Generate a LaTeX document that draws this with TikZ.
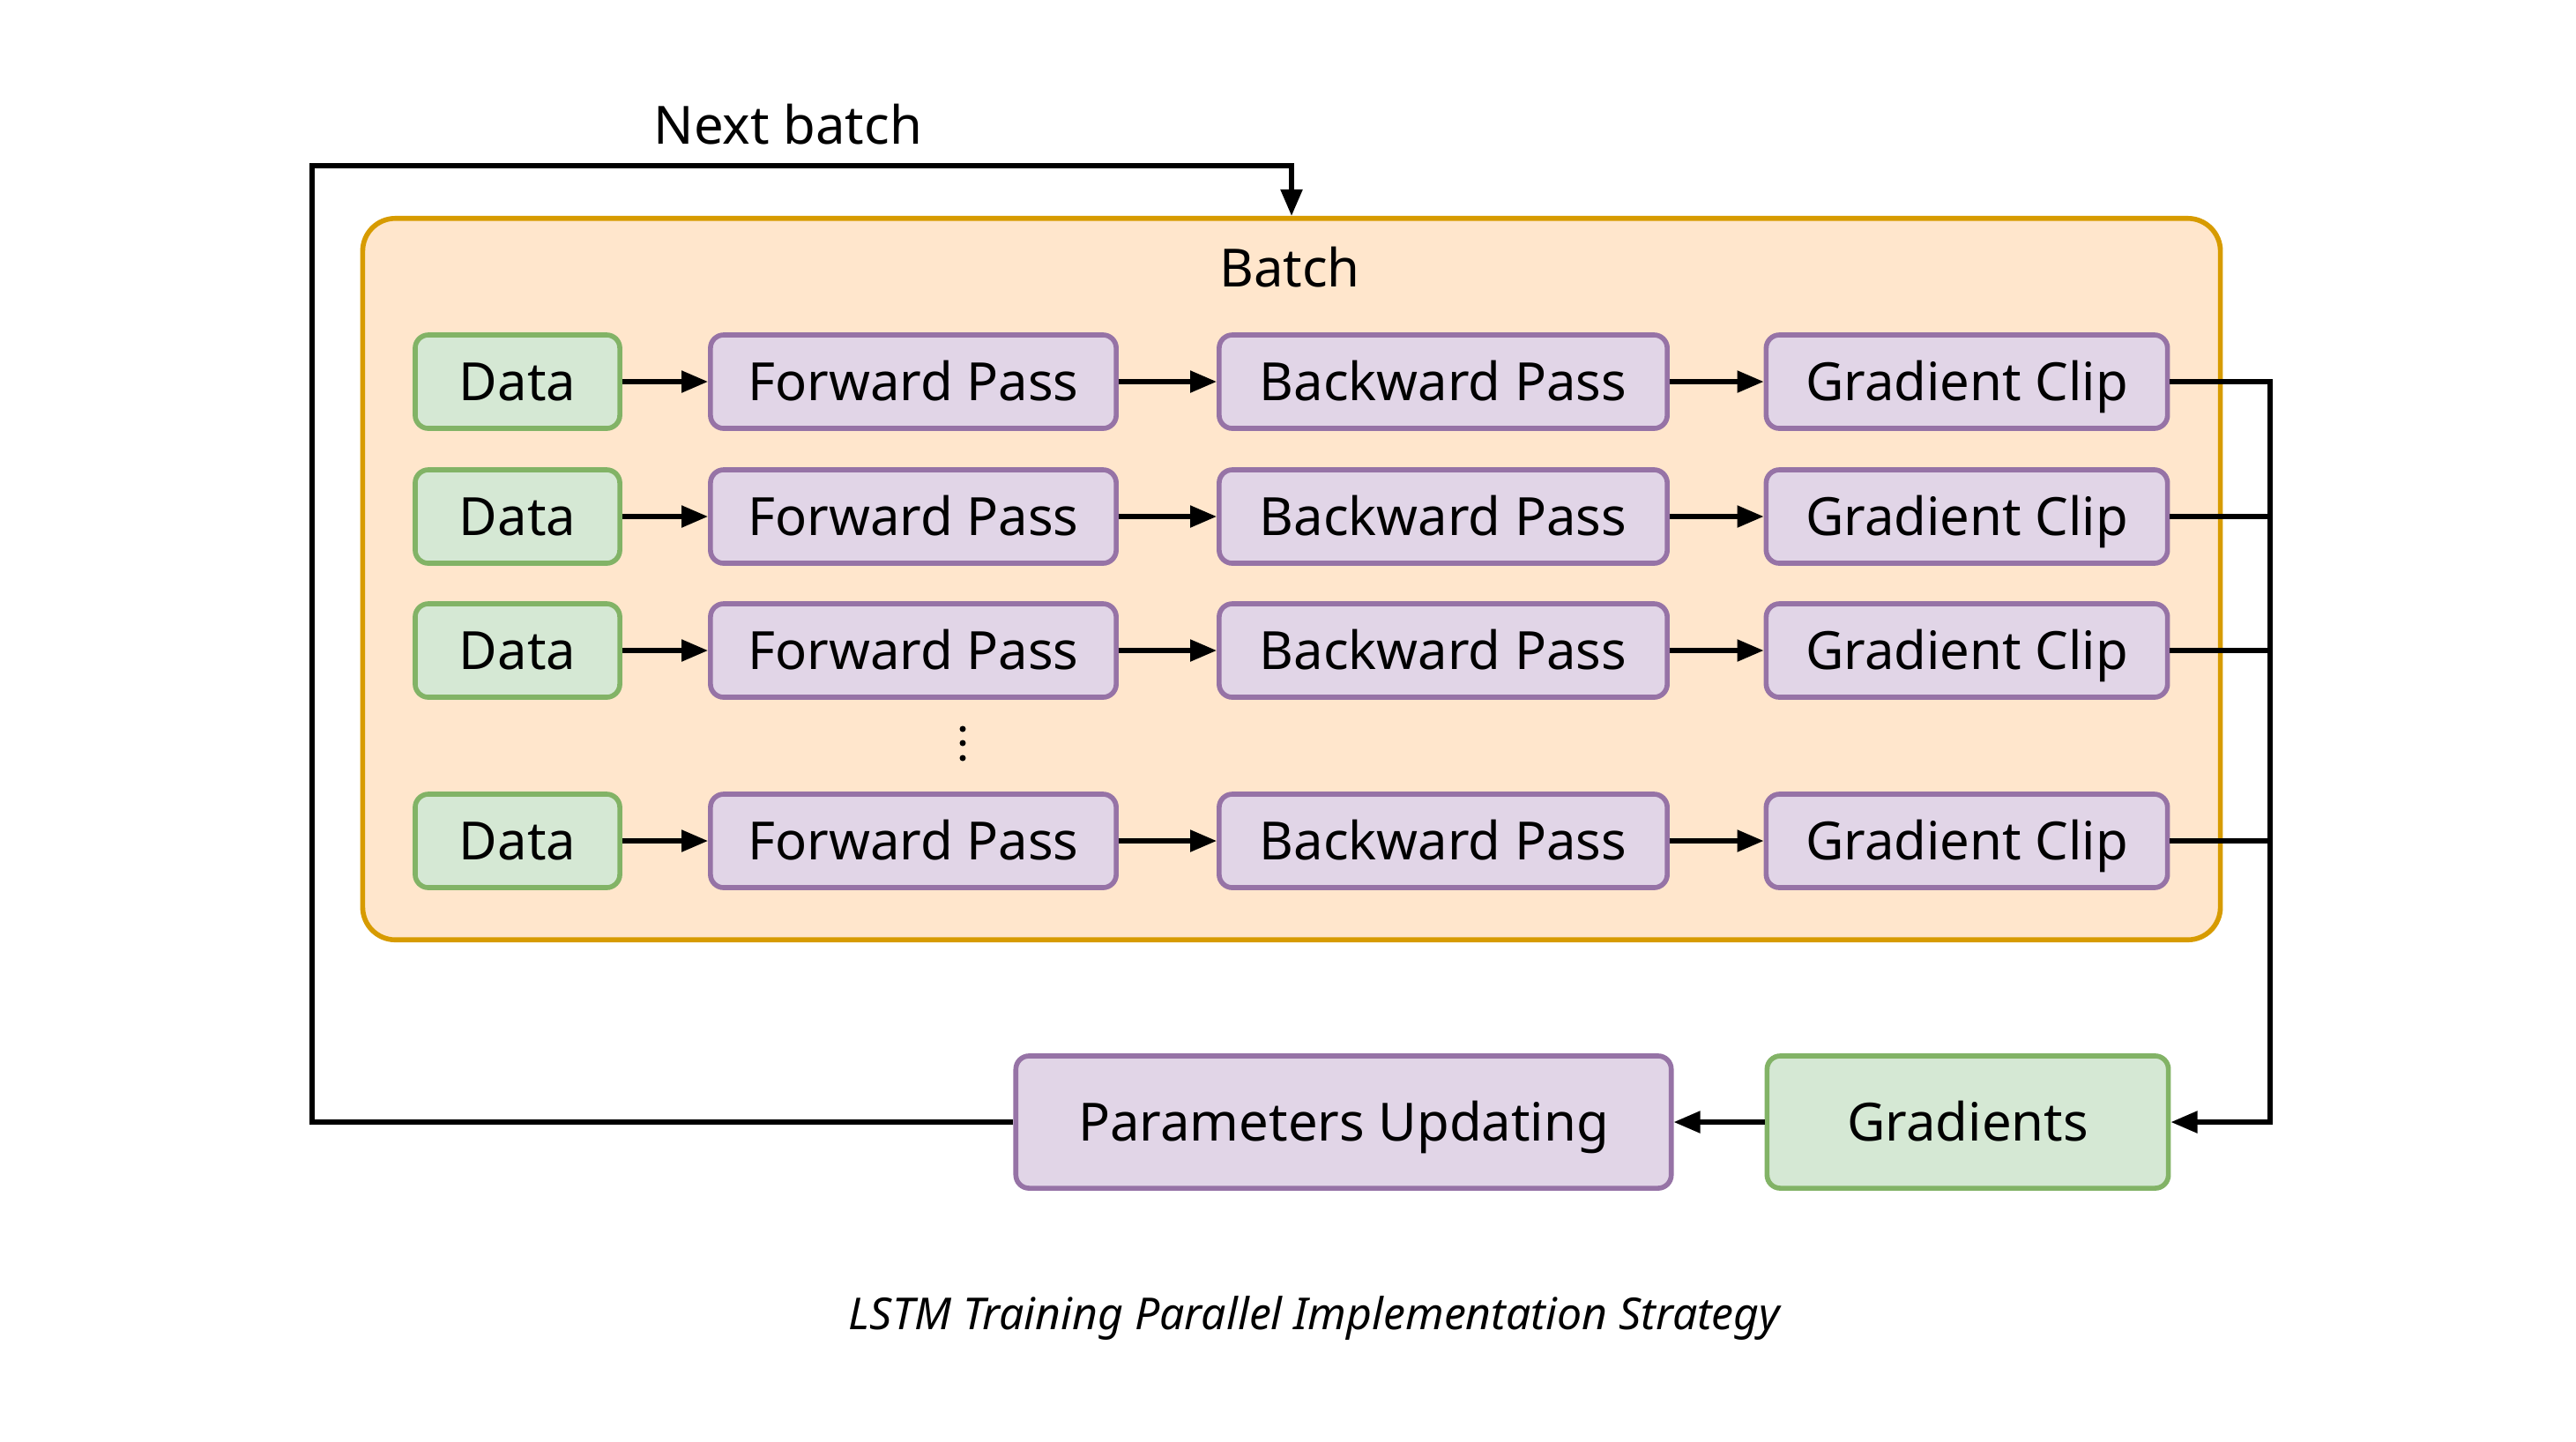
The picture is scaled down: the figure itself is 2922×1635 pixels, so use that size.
\documentclass[tikz,border=0pt]{standalone}
\usepackage{fontspec}
\setmainfont{Noto Sans}
\usetikzlibrary{arrows.meta}
\definecolor{gfill}{HTML}{D5E8D4}
\definecolor{gdraw}{HTML}{82B366}
\definecolor{pfill}{HTML}{E1D5E7}
\definecolor{pdraw}{HTML}{9673A6}
\definecolor{ofill}{HTML}{FFE6CC}
\definecolor{odraw}{HTML}{D79B00}
\tikzset{
  base/.style={rounded corners=0.15cm, line width=1.6pt, inner sep=0pt, minimum height=1.06cm, text height=0.43cm, text depth=0cm, font=\fontsize{17}{20}\selectfont},
  greenbox/.style={base, fill=gfill, draw=gdraw},
  purplebox/.style={base, fill=pfill, draw=pdraw},
  arr/.style={line width=1.5pt, -{Triangle[length=0.3cm,width=0.24cm]}},
  conn/.style={line width=1.5pt},
  lbl/.style={font=\fontsize{17}{20}\selectfont, inner sep=0pt, text height=0.43cm, text depth=0cm}
}
\begin{document}
\begin{tikzpicture}[x=0.01cm,y=-0.01cm]
\useasboundingbox (0,0) rectangle (2922,1635);
% container
\node[draw=odraw, fill=ofill, line width=1.6pt, rounded corners=0.37cm, minimum width=21.06cm, minimum height=8.18cm, inner sep=0pt] (batch) at (1465,657) {};
\node[lbl] (batchlbl) at (1463,304) {Batch};
% rows
\foreach \i/\y in {1/433,2/586,3/738,4/954}{
  \node[greenbox, minimum width=2.32cm] (d\i) at (587,\y) {Data};
  \node[purplebox, minimum width=4.60cm] (f\i) at (1036,\y) {Forward Pass};
  \node[purplebox, minimum width=5.08cm] (b\i) at (1637,\y) {Backward Pass};
  \node[purplebox, minimum width=4.55cm] (g\i) at (2231,\y) {Gradient Clip};
  \draw[arr] (d\i) -- (f\i);
  \draw[arr] (f\i) -- (b\i);
  \draw[arr] (b\i) -- (g\i);
}
% dots
\foreach \yy in {827,843,860}{
  \fill (1092,\yy) circle (0.035cm);
}
% bottom row
\node[purplebox, minimum width=7.43cm, minimum height=1.50cm] (params) at (1524,1273) {Parameters Updating};
\node[greenbox, minimum width=4.55cm, minimum height=1.50cm] (grads) at (2232,1273) {Gradients};
\coordinate (bus) at (2575,1273);
\coordinate (loopL) at (354,188);
\draw[arr] (g1.east) -| (bus) -- (grads.east);
\draw[conn] (g2.east) -- (g2.east -| bus);
\draw[conn] (g3.east) -- (g3.east -| bus);
\draw[conn] (g4.east) -- (g4.east -| bus);
\draw[arr] (grads.west) -- (params.east);
\draw[arr] (params.west) -| (loopL) -| (batch.north);
\node[lbl] (nextlbl) at (894,142) {Next batch};
\node[font=\fontsize{14.2}{17}\selectfont\itshape, inner sep=0pt, text height=0.34cm, text depth=0cm] (caption) at (1491,1491) {LSTM Training Parallel Implementation Strategy};
\end{tikzpicture}
\end{document}
